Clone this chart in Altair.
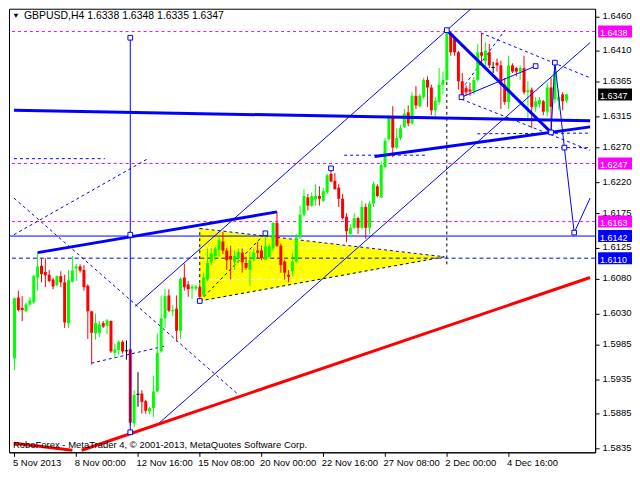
import altair as alt
import pandas as pd

# ---------------- data ----------------
opens = [1.5965,1.6053,1.6038,1.6033,1.6043,1.6046,1.6082,1.6099,1.6090,1.6086,
         1.6079,1.6071,1.6084,1.6075,1.6016,1.6076,1.6095,1.6098,1.6093,1.6070,
         1.6033,1.6001,1.6002,1.6016,1.6012,1.6019,1.5973,1.5977,1.5989,1.5976,
         1.5978,1.5871,1.5913,1.5914,1.5903,1.5888,1.5893,1.5917,1.5975,1.6023,
         1.6056,1.6033,1.6037,1.6005,1.6082,1.6072,1.6066,1.6066,1.6068,1.6056,
         1.6079,1.6104,1.6113,1.6122,1.6134,1.6121,1.6113,1.6104,1.6110,1.6118,
         1.6103,1.6093,1.6108,1.6121,1.6121,1.6108,1.6112,1.6124,1.6161,1.6128,
         1.6105,1.6086,1.6091,1.6105,1.6140,1.6173,1.6198,1.6186,1.6195,1.6200,
         1.6193,1.6205,1.6232,1.6222,1.6212,1.6196,1.6170,1.6145,1.6154,1.6168,
         1.6154,1.6184,1.6154,1.6189,1.6214,1.6198,1.6242,1.6282,1.6315,1.6270,
         1.6284,1.6300,1.6321,1.6305,1.6345,1.6330,1.6343,1.6368,1.6357,1.6324,
         1.6336,1.6361,1.6368,1.6435,1.6427,1.6408,1.6366,1.6356,1.6354,1.6352,
         1.6368,1.6408,1.6395,1.6408,1.6386,1.6393,1.6389,1.6361,1.6336,1.6389,
         1.6385,1.6380,1.6385,1.6350,1.6354,1.6329,1.6333,1.6337,1.6322,1.6357,
         1.6340,1.6338,1.6347,1.6338]
highs = [1.6053,1.6063,1.6055,1.6046,1.6054,1.6086,1.6118,1.6110,1.6110,1.6093,
         1.6082,1.6085,1.6091,1.6086,1.6093,1.6113,1.6102,1.6101,1.6100,1.6072,
         1.6034,1.6030,1.6019,1.6019,1.6022,1.6020,1.5986,1.5991,1.5991,1.5991,
         1.5979,1.5919,1.5945,1.5919,1.5905,1.5895,1.5940,1.6001,1.6056,1.6065,
         1.6065,1.6042,1.6056,1.6082,1.6102,1.6077,1.6072,1.6071,1.6073,1.6089,
         1.6124,1.6125,1.6126,1.6140,1.6148,1.6125,1.6128,1.6121,1.6124,1.6124,
         1.6112,1.6119,1.6124,1.6134,1.6128,1.6147,1.6131,1.6162,1.6177,1.6131,
         1.6107,1.6093,1.6117,1.6145,1.6186,1.6210,1.6203,1.6205,1.6217,1.6214,
         1.6212,1.6232,1.6240,1.6233,1.6217,1.6203,1.6175,1.6159,1.6175,1.6170,
         1.6193,1.6189,1.6193,1.6221,1.6217,1.6250,1.6284,1.6317,1.6330,1.6298,
         1.6303,1.6326,1.6331,1.6350,1.6359,1.6348,1.6371,1.6373,1.6361,1.6343,
         1.6385,1.6380,1.6439,1.6438,1.6431,1.6410,1.6378,1.6360,1.6364,1.6372,
         1.6420,1.6436,1.6422,1.6420,1.6394,1.6399,1.6396,1.6371,1.6403,1.6392,
         1.6387,1.6389,1.6403,1.6366,1.6357,1.6343,1.6343,1.6339,1.6364,1.6371,
         1.6392,1.6354,1.6350,1.6348]
lows = [1.5948,1.6033,1.6019,1.6032,1.6040,1.6044,1.6063,1.6075,1.6068,1.6075,
        1.6065,1.6069,1.6068,1.6009,1.6009,1.6075,1.6077,1.6089,1.6063,1.5993,
        1.5956,1.5992,1.5996,1.6009,1.6000,1.5973,1.5965,1.5970,1.5972,1.5963,
        1.5868,1.5865,1.5895,1.5885,1.5885,1.5884,1.5880,1.5916,1.5973,1.6009,
        1.6032,1.6026,1.5989,1.5993,1.6063,1.6054,1.6051,1.6063,1.6048,1.6054,
        1.6077,1.6100,1.6107,1.6112,1.6116,1.6093,1.6079,1.6093,1.6103,1.6089,
        1.6093,1.6070,1.6105,1.6110,1.6107,1.6107,1.6110,1.6121,1.6126,1.6089,
        1.6079,1.6075,1.6084,1.6103,1.6138,1.6170,1.6179,1.6184,1.6186,1.6186,
        1.6191,1.6203,1.6220,1.6209,1.6184,1.6166,1.6133,1.6140,1.6152,1.6145,
        1.6152,1.6138,1.6145,1.6184,1.6198,1.6197,1.6240,1.6280,1.6256,1.6268,
        1.6281,1.6298,1.6301,1.6303,1.6326,1.6328,1.6340,1.6329,1.6317,1.6315,
        1.6332,1.6347,1.6366,1.6403,1.6403,1.6354,1.6340,1.6345,1.6345,1.6347,
        1.6366,1.6389,1.6387,1.6385,1.6378,1.6380,1.6326,1.6332,1.6326,1.6378,
        1.6373,1.6368,1.6347,1.6310,1.6298,1.6322,1.6328,1.6317,1.6315,1.6292,
        1.6334,1.6324,1.6324,1.6335]
closes = [1.6052,1.6035,1.6035,1.6043,1.6049,1.6084,1.6098,1.6087,1.6085,1.6077,
          1.6069,1.6084,1.6075,1.6017,1.6078,1.6092,1.6098,1.6092,1.6068,1.6033,
          1.6002,1.6016,1.6014,1.6011,1.6020,1.5975,1.5978,1.5989,1.5975,1.5976,
          1.5872,1.5912,1.5913,1.5902,1.5889,1.5893,1.5917,1.5973,1.6023,1.6055,
          1.6034,1.6035,1.6005,1.6080,1.6068,1.6065,1.6069,1.6069,1.6054,1.6082,
          1.6103,1.6117,1.6124,1.6136,1.6121,1.6107,1.6108,1.6113,1.6119,1.6104,
          1.6096,1.6107,1.6118,1.6118,1.6110,1.6127,1.6127,1.6161,1.6128,1.6100,
          1.6089,1.6083,1.6105,1.6140,1.6173,1.6200,1.6186,1.6200,1.6200,1.6196,
          1.6207,1.6230,1.6221,1.6210,1.6196,1.6168,1.6149,1.6154,1.6168,1.6154,
          1.6184,1.6154,1.6189,1.6217,1.6200,1.6245,1.6280,1.6315,1.6270,1.6284,
          1.6298,1.6319,1.6305,1.6345,1.6331,1.6345,1.6368,1.6357,1.6324,1.6338,
          1.6361,1.6368,1.6436,1.6408,1.6408,1.6366,1.6343,1.6350,1.6351,1.6368,
          1.6408,1.6403,1.6410,1.6389,1.6386,1.6389,1.6361,1.6336,1.6389,1.6380,
          1.6380,1.6385,1.6350,1.6353,1.6329,1.6337,1.6339,1.6322,1.6357,1.6329,
          1.6380,1.6343,1.6337,1.6347]

x_tick_bars = [0, 16, 32, 48, 64, 80, 96, 112, 128]
x_tick_labels = ["5 Nov 2013", "8 Nov 00:00", "12 Nov 16:00", "15 Nov 08:00", "20 Nov 00:00",
                 "22 Nov 16:00", "27 Nov 08:00", "2 Dec 00:00", "4 Dec 16:00"]
y_ticks = [1.6460, 1.6410, 1.6365, 1.6315, 1.6270, 1.6220, 1.6175, 1.6125,
           1.6080, 1.6030, 1.5985, 1.5935, 1.5885, 1.5835]

magenta_levels = [1.6438, 1.6247, 1.6163]
blue_solid_levels = [1.6142]
blue_dashed_levels = [1.6110]

label_prices = [1.6438, 1.6347, 1.6247, 1.6163, 1.6142, 1.6110]
label_kinds = ["magenta", "current", "magenta", "magenta", "blue", "blue"]

# analysis objects: (bar index, price) vertices
thick_blue = [
    [(-0.125, 1.6324), (149.125, 1.6309)],
    [(6, 1.6118), (68, 1.6177)],
    [(93.3, 1.6257), (149.125, 1.6300)],
    [(112, 1.6440), (139, 1.6292)],
]
thick_red = [
    [(17.4, 1.5832), (149.125, 1.6082)],
    [(-0.125, 1.5842), (15, 1.5832)],
]
thin_blue = [
    [(31.2, 1.6040), (118.3, 1.6471)],
    [(36.6, 1.5867), (149.125, 1.6422)],
    [(139, 1.6292), (140, 1.6393), (142.45, 1.6270), (145, 1.6147), (149.125, 1.6197)],
    [(115.8, 1.6343), (135, 1.6388)],
    [(30, 1.5858), (30, 1.6429)],
]
dashed_blue = [
    [(-0.125, 1.6197), (57.9, 1.5913)],
    [(19.9, 1.5958), (39.1, 1.5983)],
    [(-0.125, 1.6144), (34.9, 1.6255)],
    [(-0.125, 1.6254), (23.4, 1.6254)],
    [(120.8, 1.6436), (149.125, 1.6371)],
    [(115.8, 1.6354), (127.05, 1.6440)],
    [(115.8, 1.6340), (149.125, 1.6266)],
    [(119.9, 1.6290), (149.125, 1.6291)],
    [(85.4, 1.6259), (106.6, 1.6259)],
    [(119.9, 1.6270), (149.125, 1.6270)],
    [(48, 1.6153), (111.4, 1.6112)],
]
dashed_black = [
    [(112, 1.6101), (112, 1.6440)],
    [(48, 1.6048), (48, 1.6153)],
    [(48, 1.6048), (111.4, 1.6112)],
    [(48, 1.6048), (65, 1.6146)],
]
dashed_white = [
    [(48.4, 1.6125), (87.1, 1.6125)],
    [(48.4, 1.6079), (76.6, 1.6079)],
]
triangle_bar = [48, 111.4]
triangle_top = [1.6153, 1.6112]
triangle_bottom = [1.6048, 1.6112]

pivot_bars = [112, 139, 140, 145, 135, 115.8, 30, 30, 30, 82, 48, 65, 142.45]
pivot_prices = [1.6440, 1.6292, 1.6393, 1.6147, 1.6388, 1.6343, 1.6429, 1.5858,
                1.6144, 1.6240, 1.6048, 1.6146, 1.6270]

title_text = "GBPUSD,H4  1.6338 1.6348 1.6335 1.6347"
footer_text = "RoboForex - MetaTrader 4, \u00a9 2001-2013, MetaQuotes Software Corp."

# ---------------- layout ----------------
W, H = 588, 445
XDOM = [-0.125, 149.125]
YDOM = [1.5829, 1.6471]
FONT = "Liberation Sans"
BLUE = "#0000ff"
MAG = "#ff00ff"

xs = alt.Scale(domain=XDOM, nice=False, zero=False)
ys = alt.Scale(domain=YDOM, nice=False, zero=False)

label_expr = "[" + ",".join("'%s'" % t for t in x_tick_labels) + "][round(datum.value/16)]"
x_axis = alt.Axis(values=x_tick_bars, labelExpr=label_expr, orient="bottom",
                  labelAlign="left", labelBaseline="top", tickSize=4, labelPadding=1,
                  labelOffset=-2, labelFlush=False, labelOverlap=False, grid=False,
                  title=None, domainColor="black", tickColor="black",
                  labelColor="black", labelFont=FONT, labelFontSize=9.5)
y_axis = alt.Axis(values=y_ticks, format=".4f", orient="right", tickSize=4,
                  labelPadding=3, labelOffset=-1, labelFlush=False, labelOverlap=False,
                  grid=False, title=None, domainColor="black", tickColor="black",
                  labelColor="black", labelFont=FONT, labelFontSize=9.5)


def X(field):
    return alt.X(field, scale=xs, axis=x_axis, title=None)


def Y(field):
    return alt.Y(field, scale=ys, axis=y_axis, title=None)


n = len(opens)
candles = pd.DataFrame({"bar": list(range(n)), "open": opens, "high": highs,
                        "low": lows, "close": closes})
candles["dir"] = ["doji" if o == c else ("up" if c > o else "down")
                  for o, c in zip(opens, closes)]
col = alt.Color("dir:N", scale=alt.Scale(domain=["up", "down", "doji"],
                range=["#00ff00", "#ff0000", "#000000"]), legend=None)


def seg_frame(groups):
    rows = []
    for g, pts in enumerate(groups):
        for k, (b, p) in enumerate(pts):
            rows.append({"seg": g, "k": k, "bar": b, "price": p})
    return pd.DataFrame(rows)


def lines(groups, **kw):
    return alt.Chart(seg_frame(groups)).mark_line(clip=True, **kw).encode(
        x=X("bar:Q"), y=Y("price:Q"), detail="seg:N", order="k:Q")


# yellow triangle
tri = alt.Chart(pd.DataFrame({"bar": triangle_bar, "top": triangle_top,
                              "bot": triangle_bottom})).mark_area(
    color="#ffff00", opacity=1, clip=True).encode(
    x=X("bar:Q"), y=Y("top:Q"), y2="bot:Q")

mag_rules = alt.Chart(pd.DataFrame({"p": magenta_levels})).mark_rule(
    color=MAG, strokeWidth=1, strokeDash=[3, 3]).encode(y=Y("p:Q"))
blue_rule = alt.Chart(pd.DataFrame({"p": blue_solid_levels})).mark_rule(
    color=BLUE, strokeWidth=1).encode(y=Y("p:Q"))
blue_drule = alt.Chart(pd.DataFrame({"p": blue_dashed_levels})).mark_rule(
    color=BLUE, strokeWidth=1, strokeDash=[4, 3]).encode(y=Y("p:Q"))

base = alt.Chart(candles)
wicks = base.mark_rule(strokeWidth=1).encode(
    x=X("bar:Q"), y=Y("low:Q"), y2="high:Q", color=col)
bodies = base.transform_filter("datum.dir != 'doji'").mark_bar(size=3).encode(
    x=X("bar:Q"), y=Y("open:Q"), y2="close:Q", color=col)
dojis = base.transform_filter("datum.dir == 'doji'").transform_calculate(
    xl="datum.bar - 0.4", xr="datum.bar + 0.4").mark_rule(
    color="black", strokeWidth=1).encode(
    x=X("xl:Q"), x2="xr:Q", y=Y("open:Q"))

l_white = lines(dashed_white, color="white", strokeWidth=1, strokeDash=[4, 3])
l_dblue = lines(dashed_blue, color=BLUE, strokeWidth=1, strokeDash=[3, 3])
l_dblack = lines(dashed_black, color="black", strokeWidth=1, strokeDash=[3, 3])
l_thin = lines(thin_blue, color=BLUE, strokeWidth=1)
l_thick = lines(thick_blue, color=BLUE, strokeWidth=3)
l_red = lines(thick_red, color="#ff0000", strokeWidth=3)

pivots = alt.Chart(pd.DataFrame({"bar": pivot_bars, "price": pivot_prices})).mark_point(
    shape="square", filled=True, fill="white", stroke=BLUE, strokeWidth=1, size=22,
    opacity=1).encode(x=X("bar:Q"), y=Y("price:Q"))

half = 6.0 * (YDOM[1] - YDOM[0]) / H
lbl = pd.DataFrame({"price": label_prices, "kind": label_kinds})
kind_col = alt.Color("kind:N", scale=alt.Scale(domain=["magenta", "current", "blue"],
                     range=[MAG, "#000000", BLUE]), legend=None)
boxes = alt.Chart(lbl).transform_calculate(
    top="datum.price + %f" % half, bot="datum.price - %f" % half).mark_rect().encode(
    x=alt.value(W + 3), x2=alt.value(W + 37),
    y=Y("top:Q"), y2="bot:Q", color=kind_col)
box_text = alt.Chart(lbl).mark_text(align="left", baseline="middle", color="white",
                                    font=FONT, fontSize=9, dy=1.5).encode(
    x=alt.value(W + 5), y=Y("price:Q"),
    text=alt.Text("price:Q", format=".4f"))

tri_icon = alt.Chart(pd.DataFrame({"a": [0]})).mark_point(
    shape="triangle-down", filled=True, color="black", size=22, opacity=1).encode(
    x=alt.value(7), y=alt.value(7))
title = alt.Chart(pd.DataFrame({"t": [title_text]})).mark_text(
    align="left", baseline="middle", font=FONT, fontSize=10.5, color="black").encode(
    x=alt.value(15), y=alt.value(7), text="t:N")
footer = alt.Chart(pd.DataFrame({"t": [footer_text]})).mark_text(
    align="left", baseline="middle", font=FONT, fontSize=9.5, color="black").encode(
    x=alt.value(4), y=alt.value(438), text="t:N")

chart = alt.layer(
    tri, mag_rules, blue_rule, blue_drule, l_white, l_dblue, l_dblack,
    wicks, bodies, dojis, l_thin, l_thick, l_red, pivots,
    boxes, box_text, tri_icon, title, footer
).resolve_scale(color="independent").properties(
    width=W, height=H, padding={"left": 0, "top": 0, "right": 0, "bottom": 0},
    background="white"
).configure_view(stroke="black", strokeWidth=1)

chart.save("out.html", embed_options={"renderer": "svg", "actions": False})
